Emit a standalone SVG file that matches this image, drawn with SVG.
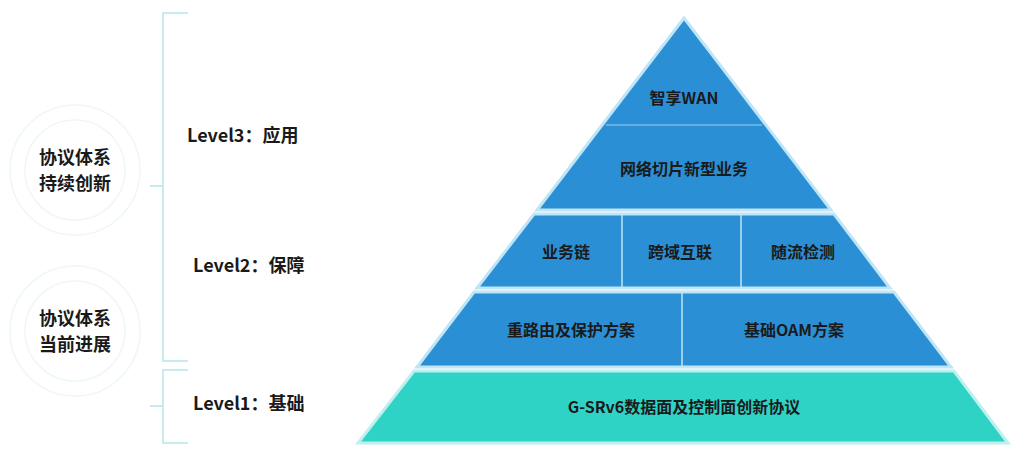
<svg xmlns="http://www.w3.org/2000/svg" width="1027" height="466" viewBox="0 0 1027 466">
<style>
.t{font-family:"Noto Sans CJK SC","Liberation Sans",sans-serif;font-weight:bold;fill:#1a1a1a}
.lbl{font-size:18px}
.in{font-size:16px;text-anchor:middle}
.blue{fill:#2b8fd5;stroke:#bfe6f7;stroke-width:3}
.teal{fill:#2fd3c6;stroke:#bff0f0;stroke-width:3}
.div{stroke:#bfe6f7;stroke-width:1.5}
.br{stroke:#c6ecf0;stroke-width:2;fill:none}
.ring{fill:none;stroke:#eef7f8;stroke-width:1.5}
</style>
<rect width="1027" height="466" fill="#fff"/>
<g id="rings">
<circle class="ring" cx="75" cy="170" r="50"/><circle class="ring" cx="75" cy="170" r="65"/>
<circle class="ring" cx="75" cy="331" r="50"/><circle class="ring" cx="75" cy="331" r="65"/>
</g>
<g id="connectors">
<path class="br" d="M188,13 H163 V361 H188 M163,186 H150"/>
<path class="br" d="M188,370 H163 V443 H188 M163,406 H150"/>
</g>
<g id="left1"><text class="t lbl" x="75" y="164" text-anchor="middle">协议体系</text><text class="t lbl" x="75" y="190" text-anchor="middle">持续创新</text></g>
<g id="left2"><text class="t lbl" x="75" y="325" text-anchor="middle">协议体系</text><text class="t lbl" x="75" y="351" text-anchor="middle">当前进展</text></g>
<g id="lv3"><text class="t lbl" x="187" y="142">Level3：应用</text></g>
<g id="lv2"><text class="t lbl" x="193" y="272">Level2：保障</text></g>
<g id="lv1"><text class="t lbl" x="193" y="410">Level1：基础</text></g>
<g id="top">
<polygon class="blue" points="684,18 831,210 537,210"/>
<line class="div" x1="606" y1="125" x2="762" y2="125" stroke-opacity="0.5"/>
<text class="t in" x="684" y="104">智享WAN</text>
<text class="t in" x="684" y="175">网络切片新型业务</text>
</g>
<g id="row2">
<polygon class="blue" points="534,214 834,214 890,288 477,288"/>
<line class="div" x1="622" y1="214" x2="622" y2="288"/>
<line class="div" x1="741" y1="214" x2="741" y2="288"/>
<text class="t in" x="566" y="258">业务链</text>
<text class="t in" x="680" y="258">跨域互联</text>
<text class="t in" x="803" y="258">随流检测</text>
</g>
<g id="row3">
<polygon class="blue" points="474,292 894,292 951,367 417,367"/>
<line class="div" x1="682" y1="292" x2="682" y2="367"/>
<text class="t in" x="571" y="336">重路由及保护方案</text>
<text class="t in" x="794" y="336">基础OAM方案</text>
</g>
<g id="base">
<polygon class="teal" points="414,371 954,371 1008,443 358,443"/>
<text class="t in" x="684" y="413">G-SRv6数据面及控制面创新协议</text>
</g>
</svg>
